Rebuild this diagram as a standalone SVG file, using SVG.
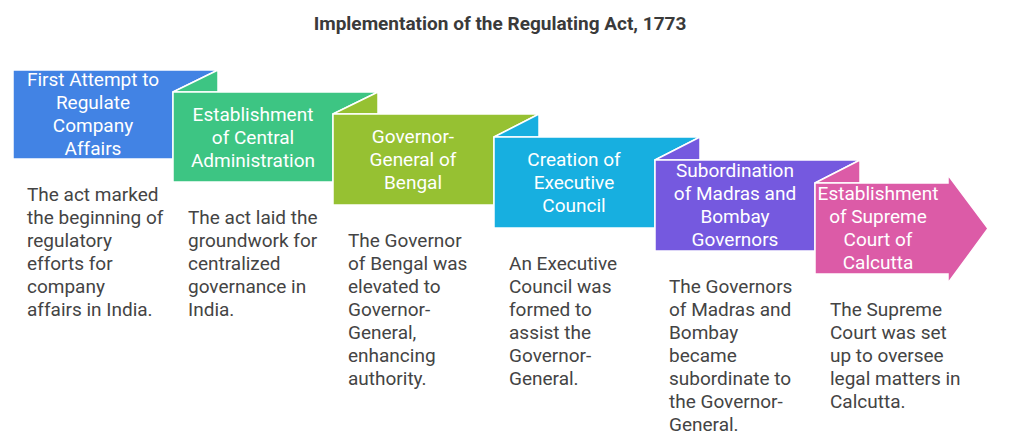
<svg xmlns="http://www.w3.org/2000/svg" width="1024" height="448" viewBox="0 0 1024 448">
<style>
.bg{fill:#ffffff}
.title{font-family:Roboto,"Liberation Sans",sans-serif;font-size:19px;font-weight:bold;fill:#3a3a3a;text-anchor:middle}
.shape{stroke:#ffffff;stroke-width:1.5;stroke-linejoin:miter}
.lbl{font-family:Roboto,"Liberation Sans",sans-serif;font-size:19px;fill:#ffffff;text-anchor:middle}
.desc{font-family:Roboto,"Liberation Sans",sans-serif;font-size:19px;fill:#444444}
.c0{fill:#4283e4}.c1{fill:#3dc583}.c2{fill:#96c132}.c3{fill:#17afe0}.c4{fill:#7559df}.c5{fill:#dc5ba7}
</style>
<rect class="bg" x="0" y="0" width="1024" height="448"/>
<text class="title" x="500" y="30">Implementation of the Regulating Act, 1773</text>
<g id="connectors"/>
<g id="node1">
<path class="shape c0" d="M13,70 H218 L173,92 V159 H13 Z"/>
<text class="lbl"><tspan x="93" y="86">First Attempt to</tspan><tspan x="93" y="109">Regulate</tspan><tspan x="93" y="132">Company</tspan><tspan x="93" y="155">Affairs</tspan></text>
<text class="desc"><tspan x="27" y="201">The act marked</tspan><tspan x="27" y="224">the beginning of</tspan><tspan x="27" y="247">regulatory</tspan><tspan x="27" y="270">efforts for</tspan><tspan x="27" y="293">company</tspan><tspan x="27" y="316">affairs in India.</tspan></text>
</g>
<g id="node2">
<path class="shape c1" d="M173,92 L218,70 V92 Z"/>
<path class="shape c1" d="M173,92 H378 L333,114 V182 H173 Z"/>
<text class="lbl"><tspan x="253" y="121">Establishment</tspan><tspan x="253" y="144">of Central</tspan><tspan x="253" y="167">Administration</tspan></text>
<text class="desc"><tspan x="188" y="224">The act laid the</tspan><tspan x="188" y="247">groundwork for</tspan><tspan x="188" y="270">centralized</tspan><tspan x="188" y="293">governance in</tspan><tspan x="188" y="316">India.</tspan></text>
</g>
<g id="node3">
<path class="shape c2" d="M333,114 L378,92 V114 Z"/>
<path class="shape c2" d="M333,114 H539 L494,137 V205 H333 Z"/>
<text class="lbl"><tspan x="413" y="143">Governor-</tspan><tspan x="413" y="166">General of</tspan><tspan x="413" y="189">Bengal</tspan></text>
<text class="desc"><tspan x="348" y="247">The Governor</tspan><tspan x="348" y="270">of Bengal was</tspan><tspan x="348" y="293">elevated to</tspan><tspan x="348" y="316">Governor-</tspan><tspan x="348" y="339">General,</tspan><tspan x="348" y="362">enhancing</tspan><tspan x="348" y="385">authority.</tspan></text>
</g>
<g id="node4">
<path class="shape c3" d="M494,137 L539,114 V137 Z"/>
<path class="shape c3" d="M494,137 H700 L655,160 V228 H494 Z"/>
<text class="lbl"><tspan x="574" y="166">Creation of</tspan><tspan x="574" y="189">Executive</tspan><tspan x="574" y="212">Council</tspan></text>
<text class="desc"><tspan x="509" y="270">An Executive</tspan><tspan x="509" y="293">Council was</tspan><tspan x="509" y="316">formed to</tspan><tspan x="509" y="339">assist the</tspan><tspan x="509" y="362">Governor-</tspan><tspan x="509" y="385">General.</tspan></text>
</g>
<g id="node5">
<path class="shape c4" d="M655,160 L700,137 V160 Z"/>
<path class="shape c4" d="M655,160 H860 L815,183 V251 H655 Z"/>
<text class="lbl"><tspan x="735" y="177">Subordination</tspan><tspan x="735" y="200">of Madras and</tspan><tspan x="735" y="223">Bombay</tspan><tspan x="735" y="246">Governors</tspan></text>
<text class="desc"><tspan x="669" y="293">The Governors</tspan><tspan x="669" y="316">of Madras and</tspan><tspan x="669" y="339">Bombay</tspan><tspan x="669" y="362">became</tspan><tspan x="669" y="385">subordinate to</tspan><tspan x="669" y="408">the Governor-</tspan><tspan x="669" y="431">General.</tspan></text>
</g>
<g id="node6">
<path class="shape c5" d="M815,183 L860,160 V183 Z"/>
<path class="shape c5" d="M815,183 H948 V175 L988,228.5 L948,283 V274 H815 Z"/>
<text class="lbl"><tspan x="878" y="200">Establishment</tspan><tspan x="878" y="223">of Supreme</tspan><tspan x="878" y="246">Court of</tspan><tspan x="878" y="269">Calcutta</tspan></text>
<text class="desc"><tspan x="830" y="316">The Supreme</tspan><tspan x="830" y="339">Court was set</tspan><tspan x="830" y="362">up to oversee</tspan><tspan x="830" y="385">legal matters in</tspan><tspan x="830" y="408">Calcutta.</tspan></text>
</g>
</svg>
